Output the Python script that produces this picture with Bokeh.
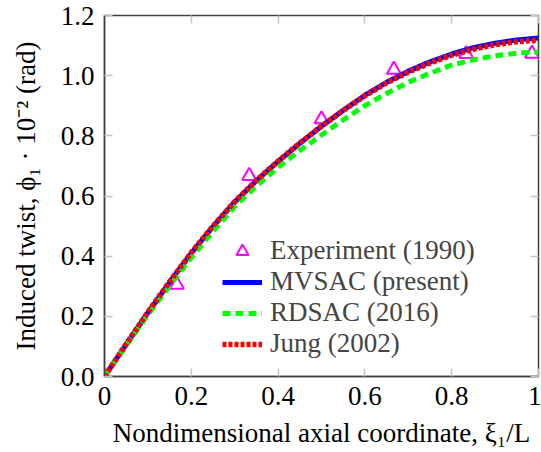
from bokeh.plotting import figure
from bokeh.models import (LinearAxis, FixedTicker, PrintfTickFormatter, Range1d,
                          Legend, LegendItem, CustomJSTickFormatter)
from bokeh.embed import file_html
from bokeh.resources import INLINE

# ---- data ----
x_curve = [0.0, 0.05, 0.1, 0.15, 0.2, 0.25, 0.3, 0.35, 0.4, 0.45, 0.5,
           0.55, 0.6, 0.65, 0.7, 0.75, 0.8, 0.85, 0.9, 0.95, 1.0]
mvsac = [0.0, 0.107, 0.212, 0.313, 0.41, 0.498, 0.58, 0.651, 0.715, 0.775, 0.832,
         0.885, 0.935, 0.978, 1.015, 1.046, 1.072, 1.093, 1.108, 1.119, 1.125]
rdsac = [0.0, 0.103, 0.205, 0.302, 0.395, 0.482, 0.565, 0.633, 0.695, 0.751, 0.803,
         0.853, 0.9, 0.941, 0.978, 1.008, 1.035, 1.053, 1.066, 1.075, 1.079]
jung = [0.0, 0.108, 0.214, 0.315, 0.412, 0.5, 0.581, 0.652, 0.716, 0.776, 0.832,
        0.884, 0.933, 0.976, 1.012, 1.042, 1.068, 1.088, 1.103, 1.113, 1.118]
x_exp = [0.0, 0.1667, 0.3333, 0.5, 0.6667, 0.8333, 0.985]
y_exp = [0.0, 0.305, 0.667, 0.855, 1.02, 1.072, 1.073]

x_ticks = [0, 0.2, 0.4, 0.6, 0.8, 1]
y_ticks = [0, 0.2, 0.4, 0.6, 0.8, 1.0, 1.2]

labels = ["Experiment (1990)", "MVSAC (present)", "RDSAC (2016)", "Jung (2002)"]
x_title = "Nondimensional axial coordinate, ξ₁/L"
y_title = "Induced twist, ϕ₁ · 10⁻² (rad)"

FONT = "Liberation Serif"
FS = "27px"
FRAME = "#404040"
TICK = "#c4c4c4"

p = figure(width=541, height=452, x_range=Range1d(0, 1), y_range=Range1d(0, 1.2),
           output_backend="svg", toolbar_location=None,
           min_border_left=104, min_border_right=3, min_border_top=15,
           min_border_bottom=76)
p.xgrid.visible = False
p.ygrid.visible = False
p.outline_line_color = FRAME
p.outline_line_width = 1.5
p.background_fill_color = "white"

for ax, ticks, fmt in ((p.xaxis[0], x_ticks, "%g"), (p.yaxis[0], y_ticks, "%.1f")):
    ax.ticker = FixedTicker(ticks=ticks)
    ax.formatter = PrintfTickFormatter(format=fmt)
    ax.major_tick_in = 8
    ax.major_tick_out = 0
    ax.minor_tick_line_color = None
    ax.major_tick_line_color = TICK
    ax.major_tick_line_width = 1.5
    ax.axis_line_color = FRAME
    ax.axis_line_width = 1.5
    ax.major_label_text_font = FONT
    ax.major_label_text_font_size = FS
    ax.major_label_text_color = "black"
    ax.axis_label_text_font = FONT
    ax.axis_label_text_font_size = FS
    ax.axis_label_text_font_style = "normal"
    ax.axis_label_text_color = "black"

p.xaxis[0].axis_label = x_title
p.yaxis[0].axis_label = y_title
p.xaxis[0].major_label_standoff = 10
p.xaxis[0].axis_label_standoff = 10
p.yaxis[0].major_label_standoff = 10
p.yaxis[0].axis_label_standoff = 17

for loc, ticks in (("above", x_ticks), ("right", y_ticks)):
    ax = LinearAxis(ticker=FixedTicker(ticks=ticks),
                    formatter=CustomJSTickFormatter(code="return ''"),
                    major_label_standoff=0, axis_line_color=None,
                    major_tick_in=8, major_tick_out=0, minor_tick_line_color=None,
                    major_tick_line_color=TICK, major_tick_line_width=1.5)
    p.add_layout(ax, loc)

r_exp = p.scatter(x_exp, y_exp, marker="triangle", size=14, fill_color=None,
                  line_color="#FF00FF", line_width=2)
r_mv = p.line(x_curve, mvsac, line_color="#0000FF", line_width=5)
r_rd = p.line(x_curve, rdsac, line_color="#00FF00", line_width=5, line_dash="8 5")
r_ju = p.line(x_curve, jung, line_color="#FF0000", line_width=5.5, line_dash="4 2")

legend = Legend(items=[LegendItem(label=labels[0], renderers=[r_exp]),
                       LegendItem(label=labels[1], renderers=[r_mv]),
                       LegendItem(label=labels[2], renderers=[r_rd]),
                       LegendItem(label=labels[3], renderers=[r_ju])],
                location=(118, 17), padding=0, spacing=-1, margin=0,
                glyph_width=40, glyph_height=30, label_height=30,
                label_standoff=8, label_text_font=FONT, label_text_font_size=FS,
                border_line_color=None, background_fill_alpha=0)
p.add_layout(legend, "center")

open("out.html", "w").write(file_html(p, INLINE))
